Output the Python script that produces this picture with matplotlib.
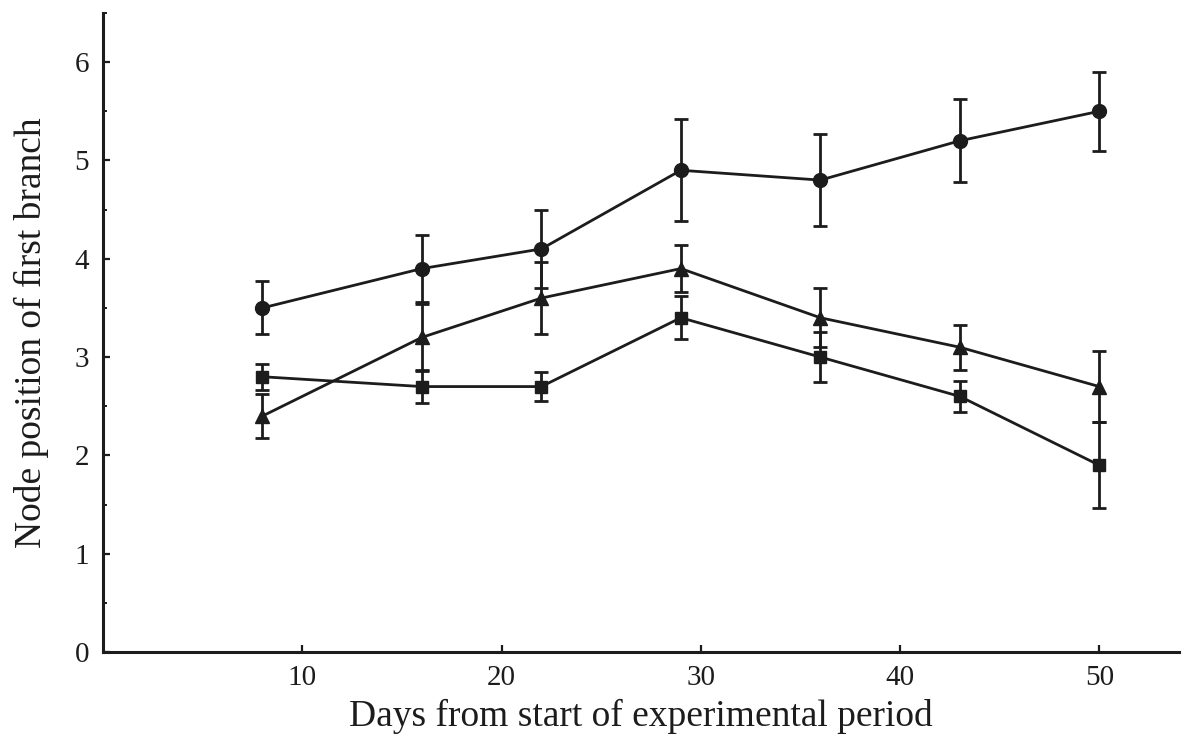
import matplotlib
matplotlib.use("Agg")
import matplotlib.pyplot as plt
from matplotlib.ticker import MultipleLocator

# Sampling days
days = [8, 16, 22, 29, 36, 43, 50]

# Node position of the first branch (mean) and its error for each treatment
circle_mean = [3.5, 3.9, 4.1, 4.9, 4.8, 5.2, 5.5]
circle_err = [0.27, 0.34, 0.40, 0.52, 0.47, 0.42, 0.40]

triangle_mean = [2.4, 3.2, 3.6, 3.9, 3.4, 3.1, 2.7]
triangle_err = [0.22, 0.34, 0.37, 0.24, 0.30, 0.23, 0.36]

square_mean = [2.8, 2.7, 2.7, 3.4, 3.0, 2.6, 1.9]
square_err = [0.13, 0.17, 0.15, 0.22, 0.25, 0.16, 0.44]

x_ticks = [10, 20, 30, 40, 50]
y_ticks = [0, 1, 2, 3, 4, 5, 6]

ink = "#1c1c1c"
plt.rcParams["font.family"] = ["Liberation Serif", "DejaVu Serif"]

fig = plt.figure(figsize=(11.88, 7.45), dpi=100)
ax = fig.add_axes([0.0867, 0.1248, 0.9057, 0.8578])

series = [
    (circle_mean, circle_err, "o", 10),
    (triangle_mean, triangle_err, "^", 10),
    (square_mean, square_err, "s", 9),
]
for mean, err, marker, ms in series:
    ax.errorbar(days, mean, yerr=err, fmt="-", marker=marker, ms=ms,
                color=ink, mfc=ink, mec=ink, lw=2.0, elinewidth=2.0,
                capsize=5, capthick=2.0)

ax.set_xlim(0, 54)
ax.set_ylim(0, 6.5)
ax.set_xticks(x_ticks)
ax.set_yticks(y_ticks)
ax.yaxis.set_minor_locator(MultipleLocator(0.5))

for side in ("top", "right"):
    ax.spines[side].set_visible(False)
for side in ("left", "bottom"):
    ax.spines[side].set_linewidth(2.2)
    ax.spines[side].set_color(ink)

ax.tick_params(axis="both", which="major", direction="in", length=5,
               width=1.6, color=ink, labelsize=21, labelcolor=ink)
ax.tick_params(axis="x", which="major", pad=9)
ax.tick_params(axis="y", which="major", pad=10)
ax.tick_params(axis="y", which="minor", direction="in", length=3,
               width=1.4, color=ink)

ax.set_xlabel("Days from start of experimental period", fontsize=27,
              color=ink, labelpad=6)
ax.set_ylabel("Node position of ﬁrst branch", fontsize=27, color=ink,
              labelpad=18)

fig.savefig("out.png", dpi=100)
